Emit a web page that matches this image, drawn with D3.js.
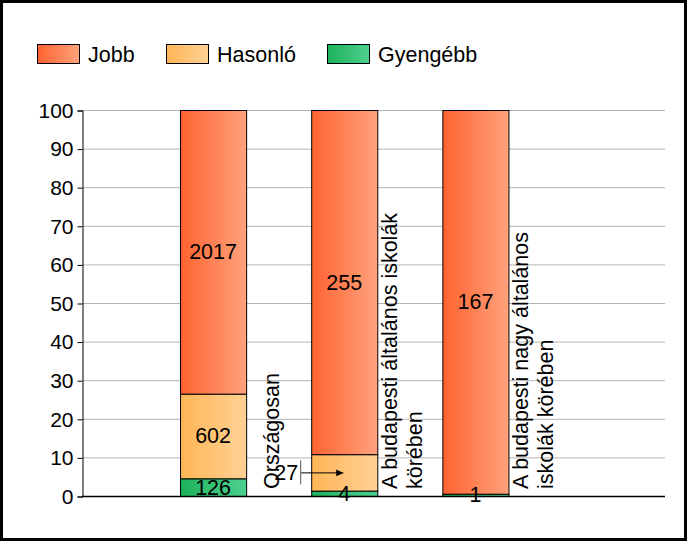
<!DOCTYPE html>
<html>
<head>
<meta charset="utf-8">
<script src="https://cdn.jsdelivr.net/npm/d3@7"></script>
<style>
  html, body { margin: 0; padding: 0; background: #fff; }
  svg { display: block; font-family: Arial, "Liberation Sans", sans-serif; }
</style>
</head>
<body>
<svg id="chart" width="687" height="541"></svg>
<script>
// ---- data ----
const categories = [
  ["Országosan"],
  ["A budapesti általános iskolák", "körében"],
  ["A budapesti nagy általános", "iskolák körében"]
];
const seriesNames = ["Gyengébb", "Hasonló", "Jobb"];   // stacking order bottom -> top
const legendOrder = ["Jobb", "Hasonló", "Gyengébb"];
const gyengebb = [126, 4, 1];
const hasonlo  = [602, 27, 0];
const jobb     = [2017, 255, 167];
const yTicks = [0, 10, 20, 30, 40, 50, 60, 70, 80, 90, 100];
// labels drawn with a callout arrow instead of in place: [series, category index]
const callouts = [["Hasonló", 1]];

const colors = {
  "Jobb":     ["#ff6330", "#ffa27c"],
  "Hasonló":  ["#ffb655", "#ffd196"],
  "Gyengébb": ["#1eb25b", "#4dd08f"]
};

const valuesBySeries = { "Gyengébb": gyengebb, "Hasonló": hasonlo, "Jobb": jobb };

const svg = d3.select("#chart");
const W = 687, H = 541;
const FS = 21.5;

// gradients
const defs = svg.append("defs");
Object.entries(colors).forEach(([k, c], i) => {
  const g = defs.append("linearGradient").attr("id", "grad" + i)
    .attr("x1", "0%").attr("x2", "100%").attr("y1", "0%").attr("y2", "0%");
  g.append("stop").attr("offset", "0%").attr("stop-color", c[0]);
  g.append("stop").attr("offset", "100%").attr("stop-color", c[1]);
  colors[k].id = "grad" + i;
});
defs.append("marker").attr("id", "arrow").attr("viewBox", "0 0 10 10")
  .attr("refX", 10).attr("refY", 5).attr("markerWidth", 9).attr("markerHeight", 7)
  .attr("markerUnits", "userSpaceOnUse").attr("orient", "auto")
  .append("path").attr("d", "M0,0 L10,5 L0,10 Z").attr("fill", "#000");

// scales
const plotLeft = 82, plotRight = 665, plotTop = 110, plotBottom = 496;
const y = d3.scaleLinear().domain([0, 100]).range([plotBottom, plotTop]);
const x = d3.scaleBand().domain(d3.range(categories.length))
  .range([147.5, 541]).paddingInner(0.496).paddingOuter(0.248);

// gridlines
svg.append("g").selectAll("line").data(yTicks.filter(t => t > 0)).join("line")
  .attr("x1", plotLeft).attr("x2", plotRight)
  .attr("y1", d => y(d) + 0.5).attr("y2", d => y(d) + 0.5)
  .attr("stroke", "#b4b4b4").attr("stroke-width", 1);

// y axis
const yAxis = d3.axisLeft(y).tickValues(yTicks).tickSize(5).tickPadding(4).tickFormat(d3.format("d"));
const yg = svg.append("g").attr("transform", `translate(${plotLeft + 0.5},0.5)`).call(yAxis);
yg.select(".domain").attr("stroke", "#000");
yg.selectAll(".tick line").attr("stroke", "#000");
yg.selectAll(".tick text").attr("font-size", 21).attr("fill", "#000")
  .attr("font-family", "Arial, 'Liberation Sans', sans-serif");

// stack
const rows = categories.map((c, i) => {
  const total = gyengebb[i] + hasonlo[i] + jobb[i];
  const r = { i };
  seriesNames.forEach(s => r[s] = valuesBySeries[s][i] / total * 100);
  return r;
});
const stack = d3.stack().keys(seriesNames)(rows);

const barsG = svg.append("g");
stack.forEach(layer => {
  const key = layer.key;
  barsG.append("g").selectAll("rect").data(layer.filter(d => d[1] - d[0] > 0)).join("rect")
    .attr("x", d => x(d.data.i) + 0.5)
    .attr("width", x.bandwidth())
    .attr("y", d => y(d[1]) + 0.5)
    .attr("height", d => y(d[0]) - y(d[1]))
    .attr("fill", `url(#${colors[key].id})`)
    .attr("stroke", "#000").attr("stroke-width", 1);
});

// x axis line
svg.append("line").attr("x1", plotLeft).attr("x2", plotRight)
  .attr("y1", plotBottom + 0.5).attr("y2", plotBottom + 0.5)
  .attr("stroke", "#000").attr("stroke-width", 1.5);

// value labels
const labelsG = svg.append("g").attr("font-size", FS).attr("fill", "#000");
stack.forEach(layer => {
  layer.forEach(d => {
    const v = valuesBySeries[layer.key][d.data.i];
    if (!v) return;
    const cx = x(d.data.i) + x.bandwidth() / 2;
    const cy = (y(d[0]) + y(d[1])) / 2;
    const isCallout = callouts.some(c => c[0] === layer.key && c[1] === d.data.i);
    if (isCallout) {
      const bx = x(d.data.i);
      labelsG.append("text").attr("x", bx - 13).attr("y", cy + 7.5)
        .attr("text-anchor", "end").text(v);
      labelsG.append("line").attr("x1", bx - 10.5).attr("x2", bx - 10.5)
        .attr("y1", cy - 12).attr("y2", cy + 12).attr("stroke", "#555").attr("stroke-width", 1);
      labelsG.append("line").attr("x1", bx - 10).attr("x2", cx - 1)
        .attr("y1", cy + 0.5).attr("y2", cy + 0.5).attr("stroke", "#000").attr("stroke-width", 1)
        .attr("marker-end", "url(#arrow)");
    } else {
      labelsG.append("text").attr("x", cx).attr("y", cy + 7.5)
        .attr("text-anchor", "middle").text(v);
    }
  });
});

// category labels (rotated)
const catG = svg.append("g").attr("font-size", FS).attr("fill", "#000");
categories.forEach((lines, i) => {
  const center = x(i) + x.bandwidth() / 2 + 60;
  const n = lines.length;
  const t = catG.append("text")
    .attr("transform", `translate(${center},489) rotate(-90)`)
    .attr("text-anchor", "start");
  lines.forEach((ln, j) => {
    t.append("tspan").attr("x", 0).attr("y", 5.5 + (j - (n - 1) / 2) * 25).text(ln);
  });
});

// legend
const legend = svg.append("g").attr("font-size", FS);
const legendX = [37, 166, 327];
legendOrder.forEach((k, i) => {
  const g = legend.append("g").attr("transform", `translate(${legendX[i]},44)`);
  g.append("rect").attr("x", 0.5).attr("y", 0.5).attr("width", 42).attr("height", 19)
    .attr("fill", `url(#${colors[k].id})`).attr("stroke", "#000").attr("stroke-width", 1);
  g.append("text").attr("x", 51).attr("y", 17.5).attr("fill", "#000").text(k);
});

// outer border
svg.append("rect").attr("x", 1.5).attr("y", 1.5).attr("width", W - 3).attr("height", H - 3)
  .attr("fill", "none").attr("stroke", "#000").attr("stroke-width", 3);
</script>
</body>
</html>
